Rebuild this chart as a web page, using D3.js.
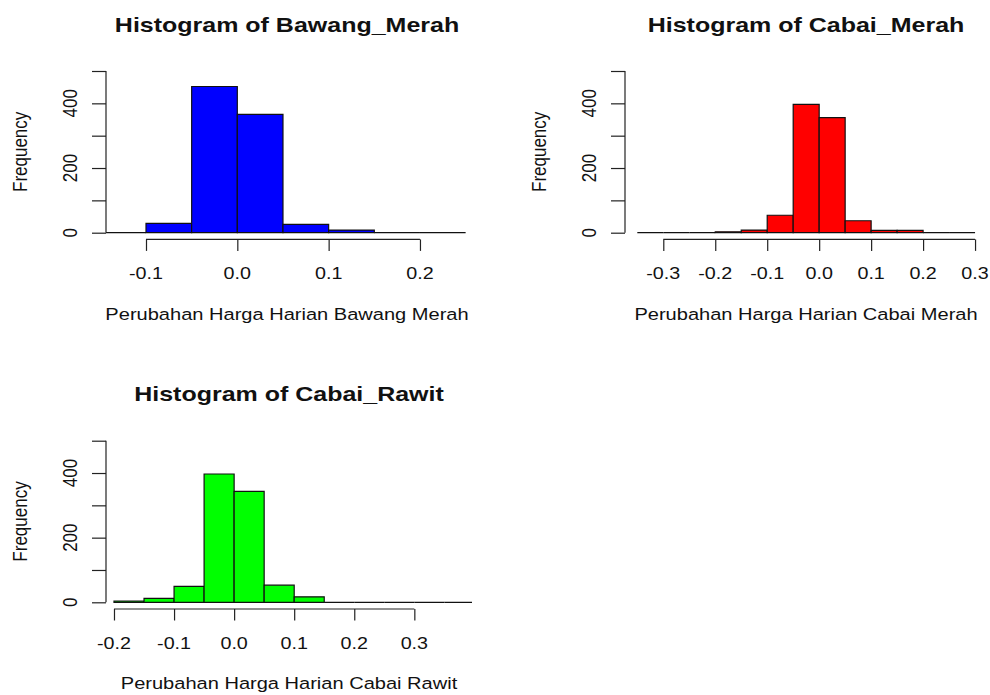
<!DOCTYPE html>
<html>
<head>
<meta charset="utf-8">
<script src="https://cdn.jsdelivr.net/npm/d3@7"></script>
<style>
  body { margin: 0; background: #fff; }
  text { font-family: "Liberation Sans", Arial, sans-serif; fill: #111; }
</style>
</head>
<body>
<svg id="chart" width="990" height="695"></svg>
<script>
// histogram data
var bawangBreaks = [-0.15, -0.10, -0.05, 0.00, 0.05, 0.10, 0.15, 0.20, 0.25];
var bawangCounts = [0, 29, 452, 366, 26, 8, 0, 0];

var cabaiMerahBreaks = [-0.35, -0.30, -0.25, -0.20, -0.15, -0.10, -0.05, 0.00, 0.05, 0.10, 0.15, 0.20, 0.25, 0.30];
var cabaiMerahCounts = [0, 0, 0, 3, 8, 54, 397, 356, 37, 7, 7, 0, 0];

var cabaiRawitBreaks = [-0.20, -0.15, -0.10, -0.05, 0.00, 0.05, 0.10, 0.15, 0.20, 0.25, 0.30, 0.35, 0.40];
var cabaiRawitCounts = [4, 12, 49, 397, 343, 53, 17, 0, 0, 0, 0, 0];

var bawangTicks = [-0.1, 0.0, 0.1, 0.2];
var bawangTickLabels = ["-0.1", "0.0", "0.1", "0.2"];
var cabaiMerahTicks = [-0.3, -0.2, -0.1, 0.0, 0.1, 0.2, 0.3];
var cabaiMerahTickLabels = ["-0.3", "-0.2", "-0.1", "0.0", "0.1", "0.2", "0.3"];
var cabaiRawitTicks = [-0.2, -0.1, 0.0, 0.1, 0.2, 0.3];
var cabaiRawitTickLabels = ["-0.2", "-0.1", "0.0", "0.1", "0.2", "0.3"];

var yTicks = [0, 100, 200, 300, 400, 500];
var yTickLabels = ["0", "", "200", "", "400", ""];

var titles = ["Histogram of Bawang_Merah", "Histogram of Cabai_Merah", "Histogram of Cabai_Rawit"];
var xTitles = ["Perubahan Harga Harian Bawang Merah", "Perubahan Harga Harian Cabai Merah", "Perubahan Harga Harian Cabai Rawit"];

var panels = [
  {breaks: bawangBreaks, counts: bawangCounts, ticks: bawangTicks, labels: bawangTickLabels,
   color: "#0000ff", left: 106, right: 468, y0: 232.7, y500: 71, dom: [-0.1438, 0.2526]},
  {breaks: cabaiMerahBreaks, counts: cabaiMerahCounts, ticks: cabaiMerahTicks, labels: cabaiMerahTickLabels,
   color: "#ff0000", left: 625, right: 987, y0: 232.7, y500: 71, dom: [-0.3737, 0.323]},
  {breaks: cabaiRawitBreaks, counts: cabaiRawitCounts, ticks: cabaiRawitTicks, labels: cabaiRawitTickLabels,
   color: "#00ff00", left: 106, right: 472, y0: 602.3, y500: 440.7, dom: [-0.2133, 0.396]}
];

var svg = d3.select("#chart");
var sx = 1.16; // the picture is stretched sideways

function stretchedText(g, x, y, str, size, bold, rot, k) {
  var t = g.append("text")
    .attr("transform", "translate(" + x + "," + y + ") scale(" + (k || sx) + ",1)" + (rot ? " rotate(-90)" : ""))
    .attr("text-anchor", "middle")
    .style("font-size", size + "px")
    .text(str);
  if (bold) t.style("font-weight", "bold");
  return t;
}

panels.forEach(function(p, i) {
  var g = svg.append("g");
  var x = d3.scaleLinear().domain(p.dom).range([p.left, p.right]);
  var y = d3.scaleLinear().domain([0, 500]).range([p.y0, p.y500]);

  var bins = p.counts.map(function(c, j) { return {x0: p.breaks[j], x1: p.breaks[j + 1], n: c}; });

  g.append("clipPath").attr("id", "clip" + i)
    .append("rect").attr("x", p.left).attr("y", p.y500 - 30)
    .attr("width", p.right - p.left).attr("height", p.y0 - p.y500 + 40);

  // paths instead of rects so that empty bins still show as a flat line
  g.append("g").attr("clip-path", "url(#clip" + i + ")")
    .selectAll("path").data(bins).enter().append("path")
    .attr("d", function(d) {
      return "M" + x(d.x0) + "," + y(0) + "V" + y(d.n) + "H" + x(d.x1) + "V" + y(0) + "Z";
    })
    .attr("fill", p.color)
    .attr("stroke", "#111")
    .attr("stroke-width", 1.2);

  // y axis
  var ya = g.append("g").attr("transform", "translate(" + p.left + ",0)")
    .call(d3.axisLeft(y).tickValues(yTicks).tickSize(14).tickFormat(""));
  ya.select(".domain").attr("d", "M0," + y(0) + "V" + y(500)).attr("stroke", "#222").attr("stroke-width", 1.2);
  ya.selectAll(".tick line").attr("stroke", "#222").attr("stroke-width", 1.2);
  yTicks.forEach(function(v, k) {
    if (yTickLabels[k]) stretchedText(g, p.left - 29, y(v), yTickLabels[k], 17, false, true);
  });

  // x axis, R style bracket below the bars
  var xa = g.append("g").attr("transform", "translate(0," + (p.y0 + 6.7) + ")")
    .call(d3.axisBottom(x).tickValues(p.ticks).tickSize(11.5).tickFormat(""));
  xa.select(".domain").attr("d", "M" + x(p.ticks[0]) + ",0H" + x(p.ticks[p.ticks.length - 1])).attr("stroke", "#222").attr("stroke-width", 1.2);
  xa.selectAll(".tick line").attr("stroke", "#222").attr("stroke-width", 1.2);
  p.ticks.forEach(function(v, k) {
    stretchedText(g, x(v), p.y0 + 46.5, p.labels[k], 17, false, false);
  });

  var cx = (p.left + p.right) / 2;
  stretchedText(g, cx, p.y0 + 87, xTitles[i], 17, false, false, 1.18);
  stretchedText(g, p.left - 79, (p.y0 + p.y500) / 2, "Frequency", 17, false, true);
  stretchedText(g, cx, p.y0 - 201.2, titles[i], 21, true, false, 1.19);
});
</script>
</body>
</html>
